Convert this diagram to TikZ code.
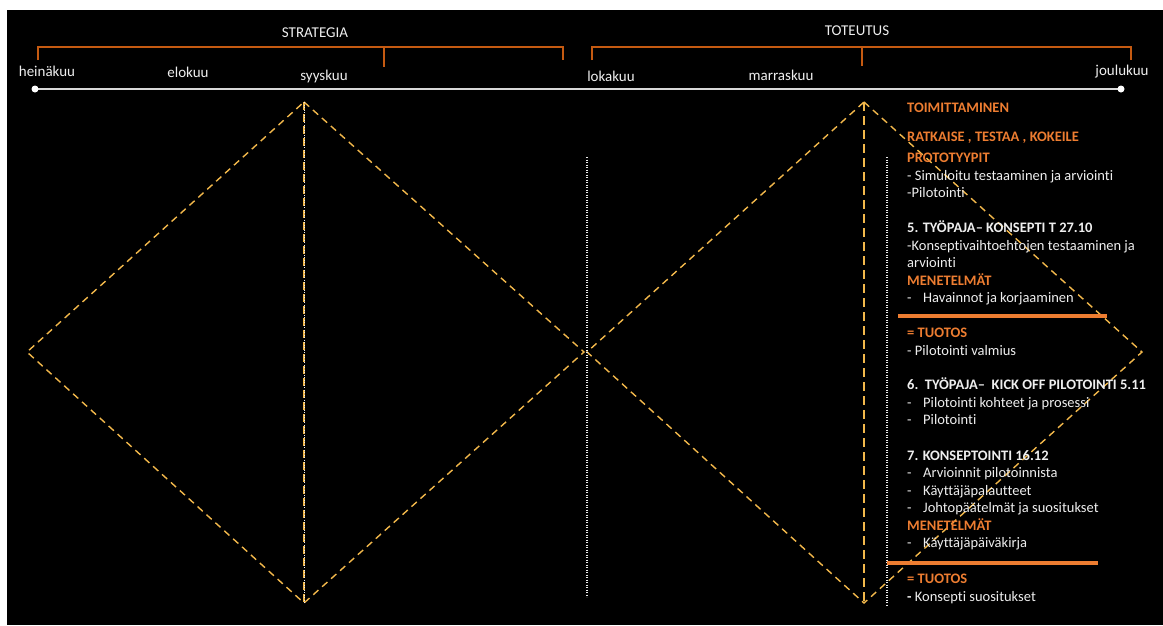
\documentclass[tikz,border=0pt]{standalone}
\usepackage{fontspec}
\setmainfont{Carlito}[RawFeature=-liga]
\definecolor{brk}{HTML}{C55A11}
\definecolor{ora}{HTML}{ED7D31}
\definecolor{gold}{HTML}{F2B84B}
\definecolor{txt}{HTML}{EEEEEE}
\definecolor{axis}{HTML}{D9D9D9}
\newcommand{\dsh}{\makebox[16pt][l]{-}}
\tikzset{
    month/.style={text=txt, font=\fontsize{15}{17}\selectfont, inner sep=0pt},
    head/.style={text=ora, font=\fontsize{14.5}{17}\selectfont\bfseries, inner sep=0pt, text height=10pt, text depth=3pt},
    bhead/.style={text=txt, font=\fontsize{14.5}{17}\selectfont\bfseries, inner sep=0pt, text height=10pt, text depth=3pt},
    body/.style={text=txt, font=\fontsize{14.5}{17}\selectfont, inner sep=0pt, text height=10pt, text depth=3pt},
    diag/.style={gold, line width=1.4pt, dash pattern=on 7pt off 5pt},
    dotline/.style={txt, line width=1.2pt, dash pattern=on 1.2pt off 1.3pt},
}

\begin{document}
\begin{tikzpicture}[x=1pt, y=-1pt]
            \useasboundingbox (0,0) rectangle (1163,625);
            \fill[white] (0,0) rectangle (1163,625);
            \fill[black] (7,10) rectangle (1163,625);
            % phases
            \node[month] (strat) at (315,33) {STRATEGIA};
            \node[month] (toteu) at (857,31) {TOTEUTUS};
            \draw[brk, line width=1.5pt] (38,60) -- (38,47) -- (563,47) -- (563,60);
            \draw[brk, line width=1.5pt] (384,47) -- (384,67);
            \draw[brk, line width=1.5pt] (592,60) -- (592,47) -- (1131,47) -- (1131,60);
            \draw[brk, line width=1.5pt] (862,47) -- (862,66);
            % months
            \foreach \x/\y/\m in {47/71/heinäkuu, 188/72/elokuu, 324/76/syyskuu,
                                 611/76/lokakuu, 781/75/marraskuu, 1122/72/joulukuu}
                \node[month] (\m) at (\x,\y) {\m};
            \coordinate (tl) at (35,89);
            \coordinate (tr) at (1121,89);
            \draw[axis, line width=1.6pt] (tl) -- (tr);
            \fill[white] (tl) circle (3.5) (tr) circle (3.5);
            % diamonds
            \coordinate (atop) at (304,102);
            \coordinate (aright) at (584,352);
            \coordinate (abot) at (304,603);
            \coordinate (aleft) at (27,352);
            \coordinate (btop) at (864,102);
            \coordinate (bright) at (1142,352);
            \coordinate (bbot) at (864,603);
            \coordinate (bleft) at (587,352);
            \draw[diag] (atop) -- (aright) -- (abot) -- (aleft) -- cycle;
            \draw[diag] (btop) -- (bright) -- (bbot) -- (bleft) -- cycle;
            \draw[gold, line width=1.4pt, dash pattern=on 8pt off 4pt] (atop) -- (abot);
            \draw[dotline, line width=0.8pt] (atop) -- (abot);
            \draw[gold, line width=2pt, dash pattern=on 9pt off 5pt] (btop) -- (bbot);
            \draw[dotline] (587,157) -- (587,597);
            \draw[dotline] (887,157) -- (887,606);
            % text block
            \draw[ora, line width=3.5pt] (898,316) -- (1107,316);
            \draw[ora, line width=3.5pt] (887,563) -- (1098,563);
            \foreach \y/\s/\t in {
                107/head/TOIMITTAMINEN,
                136/head/{RATKAISE , TESTAA , KOKEILE},
                157/head/PROTOTYYPIT,
                175/body/- Simuloitu testaaminen ja arviointi,
                192/body/-Pilotointi,
                227/bhead/5. TYÖPAJA– KONSEPTI T 27.10,
                245/body/-Konseptivaihtoehtojen testaaminen ja,
                262/body/arviointi,
                280/head/MENETELMÄT,
                297/body/\dsh Havainnot ja korjaaminen,
                332/head/= TUOTOS,
                350/body/- Pilotointi valmius,
                384/bhead/6.\ \ TYÖPAJA–\ \ KICK OFF PILOTOINTI 5.11,
                402/body/\dsh Pilotointi kohteet ja prosessi,
                419/body/\dsh Pilotointi,
                455/bhead/7. KONSEPTOINTI 16.12,
                472/body/\dsh Arvioinnit pilotoinnista,
                490/body/\dsh Käyttäjäpalautteet,
                507/body/\dsh Johtopäätelmät ja suositukset,
                525/head/MENETELMÄT,
                542/body/\dsh Käyttäjäpäiväkirja,
                578/head/= TUOTOS,
                596/body/{\bfseries -} Konsepti suositukset}
                \node[\s, anchor=west, yshift=-1.5pt] (b\y) at (907,\y) {\t};
        \end{tikzpicture}
\end{document}
